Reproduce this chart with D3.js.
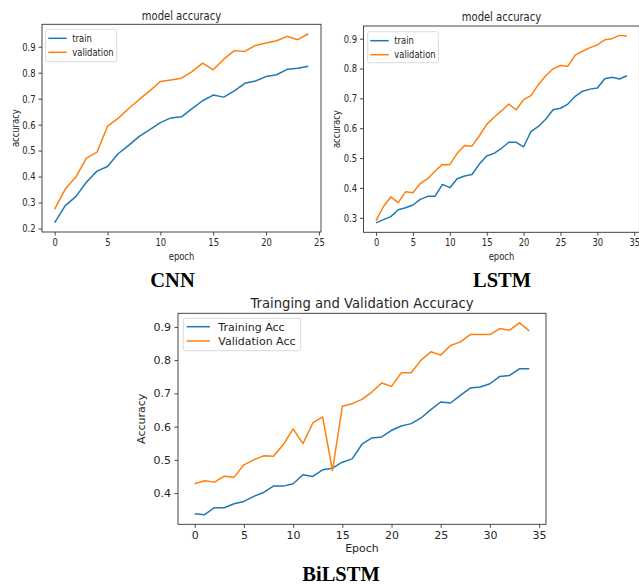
<!DOCTYPE html>
<html><head><meta charset="utf-8">
<script src="https://cdn.jsdelivr.net/npm/d3@7"></script>
<style>body{margin:0;background:#fff;}svg{display:block;}</style>
</head><body>
<svg id="c" width="639" height="585"></svg>
<script>
// ---------- DATA ----------
const cnnTrain = [0.223,0.288,0.323,0.378,0.421,0.439,0.488,0.520,0.555,0.581,0.608,0.626,0.630,0.662,0.692,0.714,0.706,0.730,0.759,0.768,0.785,0.792,0.813,0.817,0.825];
const cnnVal   = [0.275,0.352,0.398,0.471,0.494,0.594,0.624,0.662,0.697,0.730,0.766,0.772,0.779,0.804,0.837,0.811,0.852,0.885,0.882,0.905,0.914,0.923,0.940,0.927,0.950];
const lstmTrain = [0.283,0.294,0.304,0.327,0.334,0.343,0.362,0.372,0.372,0.412,0.401,0.431,0.440,0.445,0.480,0.507,0.516,0.533,0.553,0.553,0.538,0.589,0.606,0.630,0.662,0.667,0.681,0.707,0.724,0.731,0.735,0.766,0.771,0.765,0.776];
const lstmVal   = [0.291,0.338,0.370,0.351,0.387,0.384,0.415,0.431,0.457,0.479,0.478,0.516,0.542,0.540,0.574,0.613,0.637,0.658,0.681,0.662,0.696,0.709,0.746,0.776,0.799,0.810,0.808,0.845,0.858,0.870,0.879,0.896,0.900,0.911,0.909];
const bilstmTrain = [0.338,0.335,0.356,0.356,0.368,0.375,0.390,0.402,0.421,0.421,0.428,0.455,0.450,0.470,0.475,0.493,0.503,0.547,0.566,0.569,0.589,0.602,0.609,0.626,0.651,0.674,0.671,0.694,0.716,0.719,0.729,0.751,0.754,0.774,0.774];
const bilstmVal   = [0.428,0.437,0.433,0.451,0.448,0.485,0.500,0.512,0.511,0.546,0.593,0.549,0.611,0.629,0.468,0.661,0.669,0.682,0.704,0.731,0.721,0.762,0.762,0.800,0.825,0.815,0.844,0.855,0.877,0.877,0.877,0.895,0.890,0.912,0.888];

const cnnXTicks = [0,5,10,15,20,25];
const cnnYTicks = [0.2,0.3,0.4,0.5,0.6,0.7,0.8,0.9];
const lstmXTicks = [0,5,10,15,20,25,30,35];
const lstmYTicks = [0.3,0.4,0.5,0.6,0.7,0.8,0.9];
const biXTicks = [0,5,10,15,20,25,30,35];
const biYTicks = [0.4,0.5,0.6,0.7,0.8,0.9];

const BLUE = "#1f77b4", ORANGE = "#ff7f0e";
const FONT = "DejaVu Sans, sans-serif";

const svg = d3.select("#c");

function txt(g, x, y, s, o) {
  return g.append("text")
    .attr("transform", `translate(${x},${y})` + (o.rot ? ` rotate(${o.rot})` : "") + ` scale(${o.sx||1},1)`)
    .attr("font-family", o.family || FONT)
    .attr("font-size", o.size)
    .attr("font-weight", o.weight || "normal")
    .attr("fill", o.fill || "#262626")
    .attr("text-anchor", o.anchor || "start")
    .text(s);
}

function chart(cfg) {
  const g = svg.append("g");
  const n = cfg.train.length;
  const x = d3.scaleLinear().domain([-(n-1)*0.05, (n-1)*1.05]).range([cfg.left, cfg.right]);
  const all = cfg.train.concat(cfg.val);
  const [mn, mx] = d3.extent(all);
  const pad = (mx - mn) * 0.05;
  const y = d3.scaleLinear().domain([mn - pad, mx + pad]).range([cfg.bottom, cfg.top]);
  const sx = cfg.sx;

  const line = d3.line().x((d,i)=>x(i)).y(d=>y(d));
  g.append("path").datum(cfg.train).attr("d", line).attr("fill","none").attr("stroke",BLUE).attr("stroke-width",1.5).attr("stroke-linejoin","round");
  g.append("path").datum(cfg.val).attr("d", line).attr("fill","none").attr("stroke",ORANGE).attr("stroke-width",1.5).attr("stroke-linejoin","round");

  const ts = cfg.tickLen, tp = cfg.tickPad;
  const ax = g.append("g").attr("transform",`translate(0,${cfg.bottom})`)
    .call(d3.axisBottom(x).tickValues(cfg.xTicks).tickFormat(d3.format("d")).tickSize(ts).tickPadding(tp).tickSizeOuter(0));
  const ay = g.append("g").attr("transform",`translate(${cfg.left},0)`)
    .call(d3.axisLeft(y).tickValues(cfg.yTicks).tickFormat(d3.format(".1f")).tickSize(ts).tickPadding(tp).tickSizeOuter(0));
  [ax, ay].forEach(a => {
    a.select(".domain").remove();
    a.selectAll(".tick line").attr("stroke","#333").attr("stroke-width",0.9);
    a.selectAll(".tick text").attr("font-family",FONT).attr("font-size",cfg.tickSize).attr("fill","#262626");
  });
  ay.selectAll(".tick text").attr("x", -(ts+tp)/sx).attr("transform",`scale(${sx},1)`);
  ax.selectAll(".tick text").attr("transform",`scale(${sx},1)`);

  g.append("rect").attr("x",cfg.left).attr("y",cfg.top).attr("width",cfg.right-cfg.left).attr("height",cfg.bottom-cfg.top)
    .attr("fill","none").attr("stroke","#333").attr("stroke-width",0.9);

  const cx = (cfg.left + cfg.right)/2;
  txt(g, cx, cfg.titleY, cfg.title, {size:cfg.titleSize, sx, anchor:"middle"});
  txt(g, cx, cfg.xLabelY, cfg.xLabel, {size:cfg.labelSize, sx, anchor:"middle"});
  txt(g, cfg.yLabelX, (cfg.top+cfg.bottom)/2, cfg.yLabel, {size:cfg.labelSize, sx, anchor:"middle", rot:-90});

  const L = cfg.legend;
  g.append("rect").attr("x",L.x).attr("y",L.y).attr("width",L.w).attr("height",L.h).attr("rx",2)
    .attr("fill","#fff").attr("fill-opacity",0.8).attr("stroke","#d6d6d6").attr("stroke-width",0.9);
  [[cfg.names[0],BLUE],[cfg.names[1],ORANGE]].forEach((it,i)=>{
    const yy = L.y + L.row0 + i*L.rowH;
    g.append("line").attr("x1",L.x+L.l0).attr("x2",L.x+L.l1).attr("y1",yy).attr("y2",yy).attr("stroke",it[1]).attr("stroke-width",1.5);
    txt(g, L.x+L.tx, yy+L.dy, it[0], {size:cfg.legendSize, sx});
  });

  txt(g, cfg.capX, cfg.capY, cfg.caption, {size:20.5, weight:"bold", family:"Liberation Serif, Times New Roman, serif", anchor:"middle", fill:"#000"});
}

chart({train:cnnTrain, val:cnnVal, xTicks:cnnXTicks, yTicks:cnnYTicks,
  left:42, right:321, top:24.3, bottom:232, sx:0.8, tickLen:3.5, tickPad:3, tickSize:10.5, legendSize:10.5,
  title:"model accuracy", titleSize:12.5, titleY:19.5, xLabel:"epoch", xLabelY:259.5, yLabel:"accuracy", yLabelX:18.5, labelSize:10.5,
  names:["train","validation"], legend:{x:45.7,y:29.3,w:71,h:32.4,row0:9,rowH:14,l0:2.6,l1:21,tx:26.6,dy:3.7},
  caption:"CNN", capX:172.5, capY:287});

chart({train:lstmTrain, val:lstmVal, xTicks:lstmXTicks, yTicks:lstmYTicks,
  left:363.5, right:639.4, top:26, bottom:232.3, sx:0.8, tickLen:3.5, tickPad:3, tickSize:10.5, legendSize:10.5,
  title:"model accuracy", titleSize:12.5, titleY:21.3, xLabelY:259.5, xLabel:"epoch", yLabel:"accuracy", yLabelX:340, labelSize:10.5,
  names:["train","validation"], legend:{x:367.7,y:31.7,w:70.6,h:31,row0:9,rowH:14,l0:2.6,l1:21,tx:26.6,dy:3.7},
  caption:"LSTM", capX:502, capY:287});

chart({train:bilstmTrain, val:bilstmVal, xTicks:biXTicks, yTicks:biYTicks,
  left:178, right:546, top:313.3, bottom:524.3, sx:1, tickLen:3.5, tickPad:3.5, tickSize:11, legendSize:11,
  title:"Trainging and Validation Accuracy", titleSize:13.2, titleY:308.3, xLabel:"Epoch", xLabelY:552, yLabel:"Accuracy", yLabelX:145, labelSize:11,
  names:["Training Acc","Validation Acc"], legend:{x:183.3,y:318.3,w:117.4,h:32.4,row0:8.4,rowH:14.3,l0:3.4,l1:26.7,tx:35,dy:4},
  caption:"BiLSTM", capX:341, capY:581});
</script>
</body></html>
